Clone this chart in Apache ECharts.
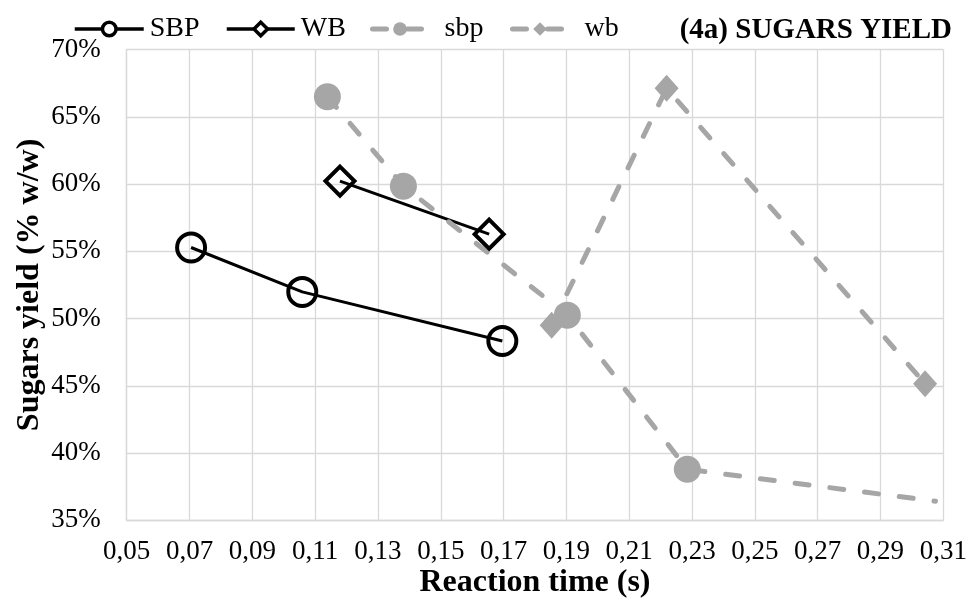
<!DOCTYPE html>
<html><head><meta charset="utf-8">
<script src="https://cdn.jsdelivr.net/npm/echarts@6/dist/echarts.min.js"></script>
<style>html,body{margin:0;padding:0;background:#fff}#c{width:968px;height:600px}</style>
</head><body><div id="c"></div>
<script>
// ---- data ----
const xTickLabels = ['0,05','0,07','0,09','0,11','0,13','0,15','0,17','0,19','0,21','0,23','0,25','0,27','0,29','0,31'];
const xMin = 0.05, xMax = 0.31;
const yMin = 35, yMax = 70, yStep = 5;

const SBP_x = [0.0705, 0.1059, 0.1696];
const SBP_y = [55.28, 51.98, 48.33];
const WB_x = [0.1179, 0.1654];
const WB_y = [60.22, 56.27];
const sbp_x = [0.1139, 0.1381, 0.1903, 0.2285, 0.3075];
const sbp_y = [66.49, 59.84, 50.25, 38.79, 36.42];
const sbp_marker = [true, true, true, true, false];
const wb_x = [0.1853, 0.2219, 0.3042];
const wb_y = [49.50, 67.11, 45.16];

const FONT = 'Liberation Serif';
const GRAY = '#a6a6a6';

function pairs(xs, ys, marks) {
  return xs.map((x, i) => {
    const v = [x, ys[i]];
    return (marks && !marks[i]) ? { value: v, symbol: 'none' } : v;
  });
}

const chart = echarts.init(document.getElementById('c'), null, { renderer: 'canvas' });

function legendFor(item, left, width, pad, lw) {
  return {
    left: left, top: 10, itemWidth: width, itemHeight: 17,
    textStyle: { fontFamily: FONT, fontSize: 28, color: '#000', padding: [0, 0, 0, pad] },
    lineStyle: { width: lw },
    selectedMode: false,
    data: [item]
  };
}

chart.setOption({
  animation: false,
  title: {
    text: '(4a) SUGARS YIELD', right: 11, top: 11,
    textStyle: { fontFamily: FONT, fontSize: 29, fontWeight: 'bold', color: '#000' }
  },
  legend: [
    legendFor({ name: 'SBP', itemStyle: { color: '#fff', borderColor: '#000', borderWidth: 3.5 } }, 68, 69, 1, 3.5),
    legendFor({ name: 'WB', itemStyle: { color: '#fff', borderColor: '#000', borderWidth: 3.5 } }, 220, 68, 1, 3.5),
    legendFor('sbp', 365, 55, 12, 5),
    legendFor('wb', 505, 55, 12, 5)
  ],
  grid: { left: 126.7, right: 24.7, top: 49.5, bottom: 79.7, containLabel: false, outerBoundsMode: 'none' },
  xAxis: [
    {
      type: 'value', min: 0, max: xTickLabels.length - 1, interval: 1,
      name: 'Reaction time (s)', nameLocation: 'middle', nameGap: 46, nameMoveOverlap: false,
      nameTextStyle: { fontFamily: FONT, fontSize: 32, fontWeight: 'bold', color: '#000' },
      axisLine: { show: true, lineStyle: { color: '#d9d9d9', width: 1.3 } },
      axisTick: { show: false },
      axisLabel: { fontFamily: FONT, fontSize: 27, color: '#000', margin: 18,
        formatter: v => xTickLabels[Math.round(v)] },
      splitLine: { show: true, lineStyle: { color: '#d9d9d9', width: 1.3 } }
    },
    {
      type: 'value', min: xMin, max: xMax, show: false,
      splitLine: { show: false }
    }
  ],
  yAxis: {
    type: 'value', min: yMin, max: yMax, interval: yStep,
    name: 'Sugars yield (% w/w)', nameLocation: 'middle', nameGap: 81, nameRotate: 90, nameMoveOverlap: false,
    nameTextStyle: { fontFamily: FONT, fontSize: 32, fontWeight: 'bold', color: '#000' },
    axisLine: { show: true, lineStyle: { color: '#d9d9d9', width: 1.3 } },
    axisTick: { show: false },
    axisLabel: { fontFamily: FONT, fontSize: 27, color: '#000', margin: 26,
      formatter: v => v + '%' },
    splitLine: { show: true, lineStyle: { color: '#d9d9d9', width: 1.3 } }
  },
  series: [
    {
      name: 'SBP', type: 'line', xAxisIndex: 1, data: pairs(SBP_x, SBP_y),
      symbol: 'circle', symbolSize: 28,
      itemStyle: { color: 'rgba(0,0,0,0)', borderColor: '#000', borderWidth: 4 },
      lineStyle: { color: '#000', width: 3 },
      emphasis: { disabled: true }
    },
    {
      name: 'WB', type: 'line', xAxisIndex: 1, data: pairs(WB_x, WB_y),
      symbol: 'diamond', symbolSize: [29, 29],
      itemStyle: { color: 'rgba(0,0,0,0)', borderColor: '#000', borderWidth: 4 },
      lineStyle: { color: '#000', width: 3 },
      emphasis: { disabled: true }
    },
    {
      name: 'sbp', type: 'line', xAxisIndex: 1, data: pairs(sbp_x, sbp_y, sbp_marker),
      symbol: 'circle', symbolSize: 27,
      itemStyle: { color: GRAY },
      lineStyle: { color: GRAY, width: 5, type: [14, 21], cap: 'round' },
      emphasis: { disabled: true }
    },
    {
      name: 'wb', type: 'line', xAxisIndex: 1, data: pairs(wb_x, wb_y),
      symbol: 'diamond', symbolSize: [24, 27],
      itemStyle: { color: GRAY },
      lineStyle: { color: GRAY, width: 5, type: [14, 21], cap: 'round' },
      emphasis: { disabled: true }
    }
  ]
});
</script>
</body></html>
